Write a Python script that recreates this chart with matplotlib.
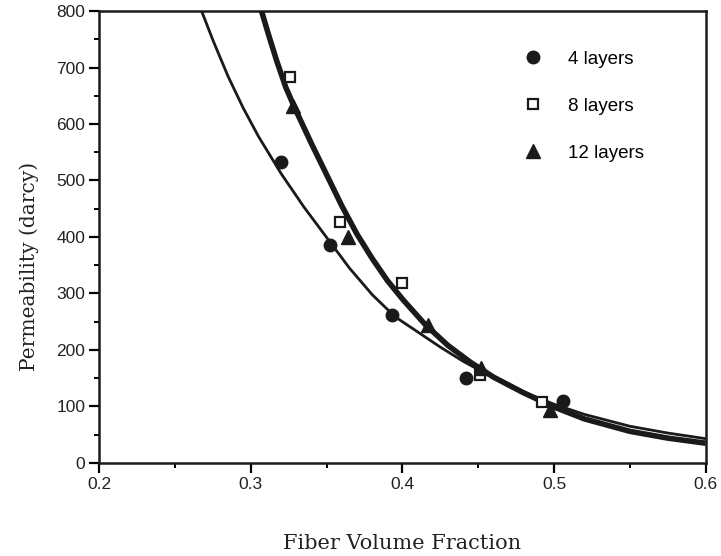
import matplotlib
matplotlib.use("Agg")
import matplotlib.pyplot as plt
from matplotlib.ticker import MultipleLocator, FuncFormatter

# measured points
vf_4 = [0.320, 0.352, 0.393, 0.442, 0.506]
k_4 = [532, 386, 262, 150, 110]

vf_8 = [0.326, 0.359, 0.400, 0.451, 0.492]
k_8 = [684, 427, 318, 156, 108]

vf_12 = [0.328, 0.364, 0.417, 0.452, 0.497]
k_12 = [632, 400, 244, 168, 93]

# fitted curves
fit4_vf = [0.2675, 0.275, 0.285, 0.295, 0.305, 0.32, 0.335, 0.35, 0.365,
           0.38, 0.395, 0.41, 0.425, 0.44, 0.455, 0.47, 0.485, 0.50,
           0.52, 0.55, 0.575, 0.60]
fit4_k = [800, 748, 684, 628, 578, 512, 453, 399, 345,
          298, 259, 232, 205, 180, 158, 138, 120, 104,
          86, 65, 53, 43]

fit812_vf = [0.307, 0.312, 0.317, 0.323, 0.329, 0.34, 0.35, 0.36, 0.37,
             0.38, 0.39, 0.40, 0.415, 0.43, 0.445, 0.46, 0.48, 0.50,
             0.52, 0.55, 0.575, 0.60]
fit812_k = [800, 755, 712, 665, 628, 565, 510, 455, 405,
            362, 323, 290, 245, 208, 178, 152, 124, 99,
            78, 56, 44, 35]

fig = plt.figure(figsize=(7.21, 5.56), dpi=100)
ax = fig.add_axes([0.1377, 0.1673, 0.8411, 0.8129])

ax.plot(fit4_vf, fit4_k, color='#1a1a1a', lw=2.0, solid_capstyle='butt')
ax.plot(fit812_vf, fit812_k, color='#1a1a1a', lw=4.0, solid_capstyle='butt')

ax.plot(vf_4, k_4, 'o', color='#1a1a1a', ms=9, label='4 layers')
ax.plot(vf_8, k_8, 's', mfc='white', mec='#1a1a1a', mew=1.6, ms=7, label='8 layers')
ax.plot(vf_12, k_12, '^', color='#1a1a1a', ms=9.5, label='12 layers')

ax.set_xlim(0.2, 0.6)
ax.set_ylim(0, 800)
ax.xaxis.set_major_locator(MultipleLocator(0.1))
ax.xaxis.set_minor_locator(MultipleLocator(0.05))
ax.yaxis.set_major_locator(MultipleLocator(100))
ax.yaxis.set_minor_locator(MultipleLocator(50))
ax.xaxis.set_major_formatter(FuncFormatter(lambda v, p: '%.1f' % v))

ax.tick_params(which='major', direction='out', length=7, width=1.6,
               labelsize=12.5, pad=3, top=False, right=False)
ax.tick_params(which='minor', direction='out', length=3.5, width=1.4,
               top=False, right=False)
for lab in ax.get_xticklabels() + ax.get_yticklabels():
    lab.set_family('Liberation Sans')
    lab.set_color('#222222')
for s in ax.spines.values():
    s.set_linewidth(1.8)
    s.set_color('#1a1a1a')

ax.set_xlabel('Fiber Volume Fraction', family='DejaVu Serif', fontsize=15,
              labelpad=30, color='#222222')
ax.set_ylabel('Permeability (darcy)', family='DejaVu Serif', fontsize=14.5,
              color='#222222')
ax.yaxis.set_label_coords(-0.10, 0.434)

leg = ax.legend(loc='upper left', bbox_to_anchor=(0.672, 0.95), frameon=False,
                prop={'family': 'Liberation Sans', 'size': 13.5},
                labelspacing=1.6, handlelength=1.0, handletextpad=1.35,
                numpoints=1)

plt.savefig('out.png', dpi=100)
plt.close()
